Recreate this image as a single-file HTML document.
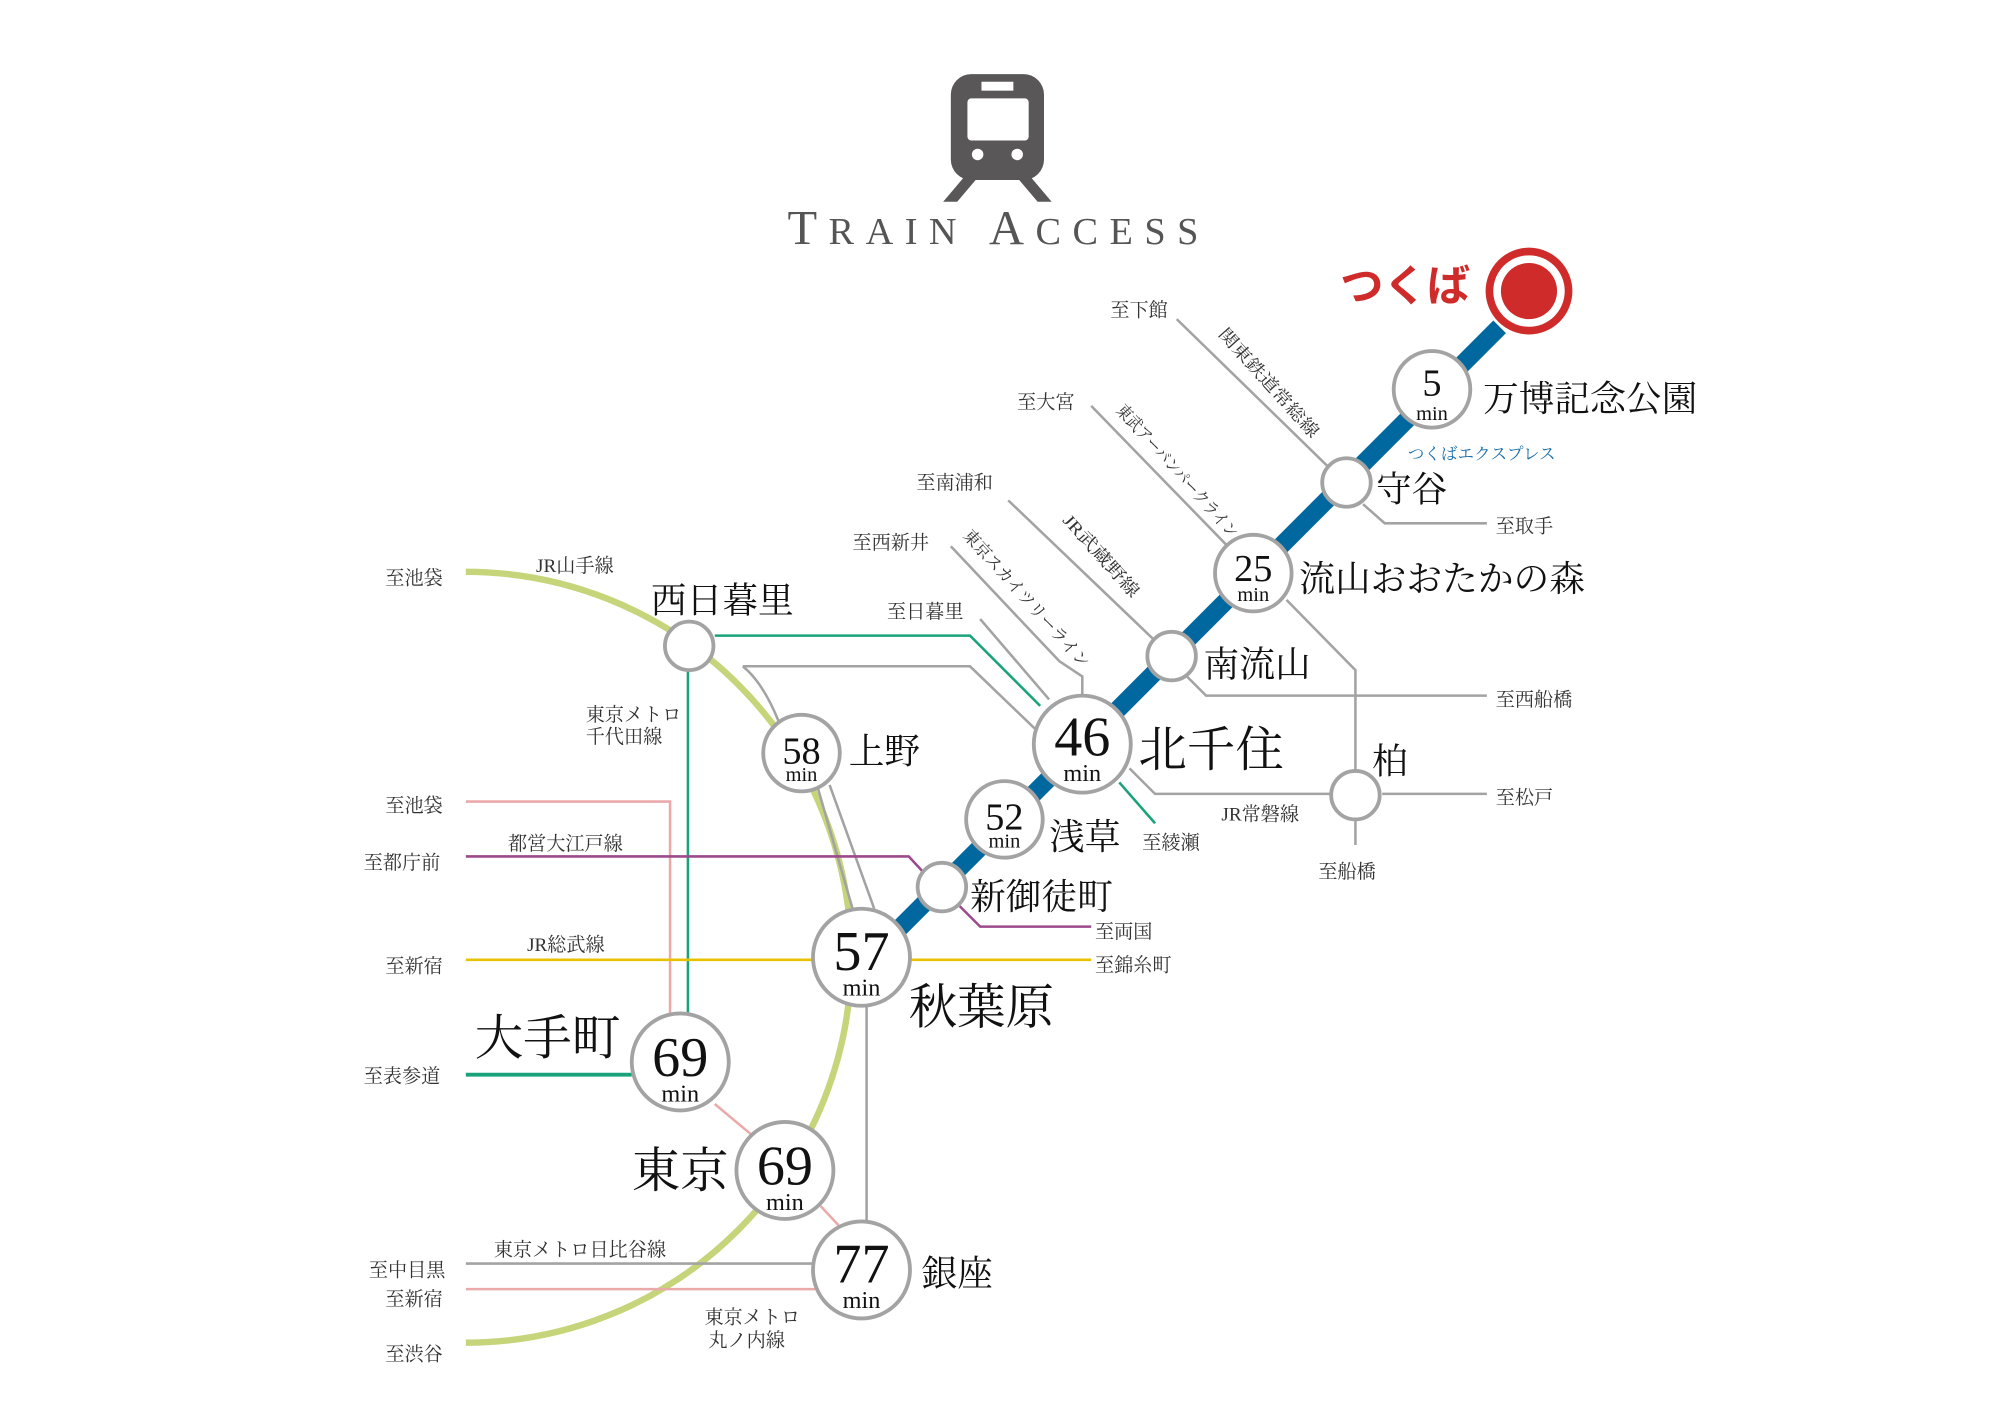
<!DOCTYPE html>
<html><head><meta charset="utf-8"><style>
html,body{margin:0;padding:0;background:#fff;}
svg{display:block;}
text{font-family:"Liberation Serif","Noto Serif CJK JP","Noto Serif CJK SC",serif;fill:#222;}
.s{font-size:15px;fill:#333;}
.r{font-size:13.5px;fill:#333;}
.st{font-size:28px;fill:#111;}
.big{font-size:38px;fill:#111;}
.n{font-size:44px;fill:#111;text-anchor:middle;}
.n2{font-size:30px;fill:#111;text-anchor:middle;}
.m{font-size:19px;fill:#111;text-anchor:middle;}
</style></head><body>
<svg width="1991" height="1427" viewBox="0 0 1560 1118" xmlns="http://www.w3.org/2000/svg">
<rect width="1560" height="1118" fill="#fff"/>
<g fill="#595758">
<rect x="745" y="58" width="73" height="83" rx="16"/>
<polygon points="756,138 767,138 750,158 739,158"/>
<polygon points="796,138 807,138 824,158 813,158"/>
</g>
<rect x="769" y="64" width="25" height="7" fill="#fff"/>
<rect x="758" y="77" width="48" height="33" rx="3" fill="#fff"/>
<circle cx="766" cy="121" r="4.5" fill="#fff"/><circle cx="797" cy="121" r="4.5" fill="#fff"/>
<text x="617" y="191" style="font-size:38px;fill:#555;letter-spacing:9px">T<tspan style="font-size:30px">RAIN</tspan> A<tspan style="font-size:30px">CCESS</tspan></text>

<path d="M365,448 A302,302 0 0 1 365,1052" fill="none" stroke="#c6d47a" stroke-width="5"/>
<g fill="none" stroke="#a3a3a3" stroke-width="2">
<path d="M922,250 L1040,365"/>
<path d="M1068,395 L1085,410 L1165,410"/>
<path d="M855,318 L962,428"/>
<path d="M1008,470 L1062,525 L1062,603"/>
<path d="M790,392 L905,502"/>
<path d="M930,530 L945,545 L1165,545"/>
<path d="M745,428 L830,518 L848,530 L848,545"/>
<path d="M768,485 L822,548"/>
<path d="M885,602 L905,622 L1043,622"/>
<path d="M1083,622 L1165,622"/>
<path d="M1062,643 L1062,662"/>
<path d="M582,522 L760,522 L812,572"/>
<path d="M582,522 Q598,535 610,565"/>
<path d="M650,615 L685,712"/>
<path d="M641,618 L668,712"/>
<path d="M679,788 L679,957"/>
<path d="M365,990 L637,990"/>
</g>
<g fill="none" stroke="#1aa37a" stroke-width="2">
<path d="M560,498 L760,498 L815,553"/>
<path d="M877,613 L905,645"/>
<path d="M539,526 L539,795"/>
</g>
<path d="M365,842 L495,842" stroke="#1aa37a" stroke-width="3"/>
<g fill="none" stroke="#eaaaaa" stroke-width="2">
<path d="M365,628 L525,628 L525,795"/>
<path d="M560,865 L590,890"/>
<path d="M643,945 L657,960"/>
<path d="M365,1010 L640,1010"/>
</g>
<g fill="none" stroke="#9c4a8c" stroke-width="2">
<path d="M365,671 L712,671 L724,684"/>
<path d="M752,710 L768,726 L855,726"/>
</g>
<path d="M365,752 L855,752" stroke="#e8c200" stroke-width="2"/>
<path d="M1175,256 L700,732" stroke="#00679f" stroke-width="14"/>

<g fill="#fff" stroke="#a3a3a3" stroke-width="3">
<circle cx="1122" cy="305" r="30"/>
<circle cx="1055" cy="378" r="19"/>
<circle cx="982" cy="449" r="30"/>
<circle cx="918" cy="514" r="19"/>
<circle cx="848" cy="583" r="38"/>
<circle cx="787" cy="642" r="30"/>
<circle cx="738" cy="695" r="19"/>
<circle cx="675" cy="750" r="38"/>
<circle cx="628" cy="590" r="30"/>
<circle cx="540" cy="506" r="19"/>
<circle cx="533" cy="832" r="38"/>
<circle cx="615" cy="917" r="38"/>
<circle cx="675" cy="995" r="38"/>
<circle cx="1062" cy="623" r="19"/>
</g>
<circle cx="1198" cy="228" r="34" fill="#cf2b2b"/>
<circle cx="1198" cy="228" r="28" fill="#fff"/>
<circle cx="1198" cy="228" r="22" fill="#cf2b2b"/>
<text x="1050" y="236" style="font-size:34px;fill:#cf2b2b;font-weight:bold;font-family:'Liberation Sans','Noto Sans CJK JP',sans-serif">つくば</text>

<text x="1122" y="310" class="n2">5</text><text x="1122" y="329" class="m" style="font-size:16px">min</text>
<text x="982" y="455" class="n2">25</text><text x="982" y="471" class="m" style="font-size:16px">min</text>
<text x="848" y="592" class="n">46</text><text x="848" y="612" class="m">min</text>
<text x="787" y="650" class="n2">52</text><text x="787" y="664" class="m" style="font-size:16px">min</text>
<text x="628" y="598" class="n2">58</text><text x="628" y="612" class="m" style="font-size:16px">min</text>
<text x="675" y="760" class="n">57</text><text x="675" y="780" class="m">min</text>
<text x="533" y="843" class="n">69</text><text x="533" y="863" class="m">min</text>
<text x="615" y="928" class="n">69</text><text x="615" y="948" class="m">min</text>
<text x="675" y="1005" class="n">77</text><text x="675" y="1025" class="m">min</text>

<text x="1162" y="322" class="st">万博記念公園</text>
<text x="1078" y="393" class="st">守谷</text>
<text x="1018" y="463" class="st">流山おおたかの森</text>
<text x="943" y="530" class="st">南流山</text>
<text x="892" y="600" class="big">北千住</text>
<text x="822" y="665" class="st">浅草</text>
<text x="760" y="712" class="st">新御徒町</text>
<text x="712" y="802" class="big">秋葉原</text>
<text x="665" y="598" class="st">上野</text>
<text x="510" y="480" class="st">西日暮里</text>
<text x="372" y="826" class="big">大手町</text>
<text x="495" y="930" class="big">東京</text>
<text x="722" y="1007" class="st">銀座</text>
<text x="1075" y="606" class="st">柏</text>
<text x="1103" y="360" style="font-size:13px;fill:#1a6ea8">つくばエクスプレス</text>

<g>
<text x="870" y="248" class="s">至下館</text>
<text x="797" y="320" class="s">至大宮</text>
<text x="718" y="383" class="s">至南浦和</text>
<text x="668" y="430" class="s">至西新井</text>
<text x="695" y="484" class="s">至日暮里</text>
<text x="1172" y="417" class="s">至取手</text>
<text x="1172" y="553" class="s">至西船橋</text>
<text x="1172" y="630" class="s">至松戸</text>
<text x="1033" y="688" class="s">至船橋</text>
<text x="957" y="643" class="s">JR常磐線</text>
<text x="895" y="665" class="s">至綾瀬</text>
<text x="858" y="735" class="s">至両国</text>
<text x="858" y="761" class="s">至錦糸町</text>
<text x="302" y="458" class="s">至池袋</text>
<text x="420" y="448" class="s">JR山手線</text>
<text x="459" y="565" class="s">東京メトロ</text>
<text x="459" y="582" class="s">千代田線</text>
<text x="302" y="636" class="s">至池袋</text>
<text x="398" y="666" class="s">都営大江戸線</text>
<text x="285" y="681" class="s">至都庁前</text>
<text x="413" y="745" class="s">JR総武線</text>
<text x="302" y="762" class="s">至新宿</text>
<text x="285" y="848" class="s">至表参道</text>
<text x="387" y="984" class="s">東京メトロ日比谷線</text>
<text x="289" y="1000" class="s">至中目黒</text>
<text x="302" y="1023" class="s">至新宿</text>
<text x="302" y="1066" class="s">至渋谷</text>
<text x="552" y="1037" class="s">東京メトロ</text>
<text x="555" y="1055" class="s">丸ノ内線</text>
</g>
<text class="r" transform="translate(954,262) rotate(48)" textLength="110" lengthAdjust="spacingAndGlyphs">関東鉄道常総線</text>
<text class="r" transform="translate(874,322) rotate(48)" textLength="135" lengthAdjust="spacingAndGlyphs">東武アーバンパークライン</text>
<text class="r" transform="translate(832,408) rotate(48)" textLength="82" lengthAdjust="spacingAndGlyphs">JR武蔵野線</text>
<text class="r" transform="translate(754,420) rotate(48)" textLength="140" lengthAdjust="spacingAndGlyphs">東京スカイツリーライン</text>
</svg>
</body></html>
